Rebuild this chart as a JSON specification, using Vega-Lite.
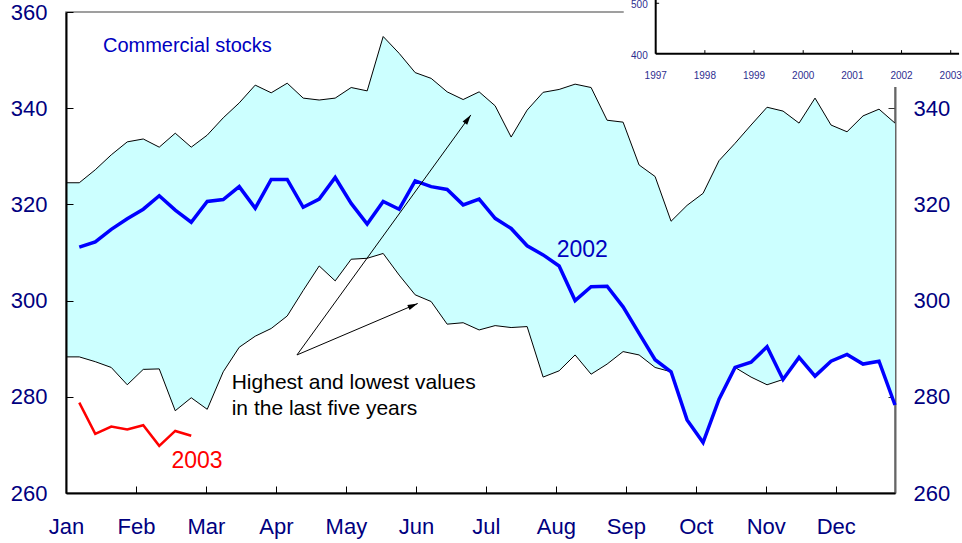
{
  "$schema": "https://vega.github.io/schema/vega-lite/v6.json",
  "width": 829,
  "height": 481,
  "autosize": {"type": "none"},
  "padding": {"left": 66, "top": 12, "right": 67, "bottom": 50},
  "background": "white",
  "config": {"view": {"stroke": "#808080", "strokeWidth": 1.5}, "font": "Liberation Sans"},
  "datasets": {
    "band": [
      {"week": 0, "high": 324.5, "low": 288.3},
      {"week": 1, "high": 324.5, "low": 288.3},
      {"week": 2, "high": 327.2, "low": 287.3},
      {"week": 3, "high": 330.3, "low": 286.1},
      {"week": 4, "high": 333.0, "low": 282.5},
      {"week": 5, "high": 333.6, "low": 285.7},
      {"week": 6, "high": 331.9, "low": 285.8},
      {"week": 7, "high": 334.8, "low": 277.1},
      {"week": 8, "high": 331.9, "low": 279.8},
      {"week": 9, "high": 334.4, "low": 277.4},
      {"week": 10, "high": 338.0, "low": 285.2},
      {"week": 11, "high": 341.1, "low": 290.3},
      {"week": 12, "high": 344.8, "low": 292.6},
      {"week": 13, "high": 343.2, "low": 294.2},
      {"week": 14, "high": 345.2, "low": 296.8},
      {"week": 15, "high": 342.1, "low": 302.1},
      {"week": 16, "high": 341.7, "low": 307.2},
      {"week": 17, "high": 342.1, "low": 304.1},
      {"week": 18, "high": 344.3, "low": 308.6},
      {"week": 19, "high": 343.6, "low": 308.8},
      {"week": 20, "high": 354.9, "low": 309.8},
      {"week": 21, "high": 351.4, "low": 305.3},
      {"week": 22, "high": 347.4, "low": 301.2},
      {"week": 23, "high": 346.2, "low": 299.8},
      {"week": 24, "high": 343.4, "low": 295.1},
      {"week": 25, "high": 341.8, "low": 295.4},
      {"week": 26, "high": 343.4, "low": 293.9},
      {"week": 27, "high": 340.5, "low": 294.8},
      {"week": 28, "high": 334.0, "low": 294.4},
      {"week": 29, "high": 339.6, "low": 294.6},
      {"week": 30, "high": 343.3, "low": 284.1},
      {"week": 31, "high": 343.9, "low": 285.4},
      {"week": 32, "high": 345.0, "low": 288.7},
      {"week": 33, "high": 344.3, "low": 284.7},
      {"week": 34, "high": 337.5, "low": 286.8},
      {"week": 35, "high": 337.1, "low": 289.4},
      {"week": 36, "high": 328.2, "low": 288.7},
      {"week": 37, "high": 325.8, "low": 286.1},
      {"week": 38, "high": 316.5, "low": 285.2},
      {"week": 39, "high": 319.8, "low": 275.2},
      {"week": 40, "high": 322.3, "low": 270.5},
      {"week": 41, "high": 329.1, "low": 279.5},
      {"week": 42, "high": 332.7, "low": 286.1},
      {"week": 43, "high": 336.5, "low": 284.1},
      {"week": 44, "high": 340.2, "low": 282.5},
      {"week": 45, "high": 339.4, "low": 283.6},
      {"week": 46, "high": 336.9, "low": 288.2},
      {"week": 47, "high": 342.1, "low": 284.3},
      {"week": 48, "high": 336.5, "low": 287.4},
      {"week": 49, "high": 335.1, "low": 288.8},
      {"week": 50, "high": 338.4, "low": 286.8},
      {"week": 51, "high": 339.8, "low": 287.4},
      {"week": 52, "high": 336.9, "low": 278.3}
    ],
    "y2002": [
      {"week": 1, "value": 311.1}, {"week": 2, "value": 312.2}, {"week": 3, "value": 314.8}, {"week": 4, "value": 317.0},
      {"week": 5, "value": 319.0}, {"week": 6, "value": 321.8}, {"week": 7, "value": 318.8}, {"week": 8, "value": 316.3},
      {"week": 9, "value": 320.6}, {"week": 10, "value": 321.0}, {"week": 11, "value": 323.7}, {"week": 12, "value": 319.2},
      {"week": 13, "value": 325.2}, {"week": 14, "value": 325.2}, {"week": 15, "value": 319.4}, {"week": 16, "value": 321.1},
      {"week": 17, "value": 325.6}, {"week": 18, "value": 320.2}, {"week": 19, "value": 315.9}, {"week": 20, "value": 320.6},
      {"week": 21, "value": 319.0}, {"week": 22, "value": 324.9}, {"week": 23, "value": 323.7}, {"week": 24, "value": 323.1},
      {"week": 25, "value": 319.9}, {"week": 26, "value": 321.1}, {"week": 27, "value": 317.1}, {"week": 28, "value": 315.0},
      {"week": 29, "value": 311.4}, {"week": 30, "value": 309.5}, {"week": 31, "value": 307.2}, {"week": 32, "value": 300.0},
      {"week": 33, "value": 302.9}, {"week": 34, "value": 303.0}, {"week": 35, "value": 298.7}, {"week": 36, "value": 293.2},
      {"week": 37, "value": 287.7}, {"week": 38, "value": 285.2}, {"week": 39, "value": 275.2}, {"week": 40, "value": 270.5},
      {"week": 41, "value": 279.5}, {"week": 42, "value": 286.1}, {"week": 43, "value": 287.2}, {"week": 44, "value": 290.4},
      {"week": 45, "value": 283.6}, {"week": 46, "value": 288.2}, {"week": 47, "value": 284.3}, {"week": 48, "value": 287.4},
      {"week": 49, "value": 288.8}, {"week": 50, "value": 286.8}, {"week": 51, "value": 287.4}, {"week": 52, "value": 278.3}
    ],
    "y2003": [
      {"week": 1, "value": 278.8}, {"week": 2, "value": 272.3}, {"week": 3, "value": 273.8}, {"week": 4, "value": 273.2},
      {"week": 5, "value": 274.1}, {"week": 6, "value": 269.8}, {"week": 7, "value": 272.9}, {"week": 8, "value": 271.9}
    ],
    "arrows": [
      {"week": 14.61, "value": 288.7, "week2": 25.48, "value2": 338.6},
      {"week": 14.61, "value": 288.7, "week2": 22.16, "value2": 299.4}
    ],
    "insetYears": [
      {"year": 1997}, {"year": 1998}, {"year": 1999}, {"year": 2000}, {"year": 2001}, {"year": 2002}, {"year": 2003}
    ],
    "insetValues": [{"v": 400}, {"v": 500}]
  },
  "layer": [
    {
      "layer": [
        {
          "data": {"name": "band"},
          "mark": {"type": "area", "fill": "#CCFFFF", "clip": true},
          "encoding": {
            "x": {
              "field": "week", "type": "quantitative",
              "scale": {"domain": [0.17, 52], "nice": false, "zero": false},
              "axis": {
                "values": [0.17, 4.545, 8.92, 13.295, 17.67, 22.045, 26.42, 30.795, 35.17, 39.545, 43.92, 48.295],
                "labelExpr": "['Jan','Feb','Mar','Apr','May','Jun','Jul','Aug','Sep','Oct','Nov','Dec'][round((datum.value-0.17)/4.375)]",
                "labelFontSize": 22, "labelColor": "#000080", "labelFont": "Liberation Sans",
                "labelFlush": false, "labelOverlap": false, "labelBound": false,
                "tickSize": -7, "tickColor": "#000000", "tickWidth": 1,
                "domainColor": "#000000", "domainWidth": 2,
                "grid": false, "title": null, "labelPadding": 30, "zindex": 1
              }
            },
            "y": {
              "field": "high", "type": "quantitative",
              "scale": {"domain": [260, 360], "nice": false, "zero": false},
              "axis": {
                "values": [260, 280, 300, 320, 340, 360],
                "labelFontSize": 22, "labelColor": "#000080", "labelFont": "Liberation Sans",
                "labelOverlap": false, "labelBound": false, "labelFlush": false,
                "tickSize": -7, "tickColor": "#000000", "tickWidth": 1,
                "domainColor": "#000000", "domainWidth": 2,
                "grid": false, "title": null, "labelPadding": 26, "zindex": 1
              }
            },
            "y2": {"field": "low"}
          }
        },
        {
          "data": {"name": "band"},
          "mark": {"type": "line", "color": "#000000", "strokeWidth": 1, "clip": true},
          "encoding": {
            "x": {"field": "week", "type": "quantitative"},
            "y": {"field": "high", "type": "quantitative"}
          }
        },
        {
          "data": {"name": "band"},
          "mark": {"type": "line", "color": "#000000", "strokeWidth": 1, "clip": true},
          "encoding": {
            "x": {"field": "week", "type": "quantitative"},
            "y": {"field": "low", "type": "quantitative"}
          }
        },
        {
          "data": {"name": "y2002"},
          "mark": {"type": "line", "color": "#0000FF", "strokeWidth": 3.5, "strokeJoin": "miter"},
          "encoding": {
            "x": {"field": "week", "type": "quantitative"},
            "y": {"field": "value", "type": "quantitative"}
          }
        },
        {
          "data": {"name": "y2003"},
          "mark": {"type": "line", "color": "#FF0000", "strokeWidth": 2.5, "strokeJoin": "miter"},
          "encoding": {
            "x": {"field": "week", "type": "quantitative"},
            "y": {"field": "value", "type": "quantitative"}
          }
        },
        {
          "data": {"values": [{"week": 2.48, "value": 351.7, "label": "Commercial stocks"}]},
          "mark": {"type": "text", "align": "left", "baseline": "alphabetic", "fontSize": 20, "color": "#0000C0", "font": "Liberation Sans"},
          "encoding": {
            "x": {"field": "week", "type": "quantitative"},
            "y": {"field": "value", "type": "quantitative"},
            "text": {"field": "label"}
          }
        },
        {
          "data": {"values": [{"week": 32.45, "value": 309.1, "label": "2002"}]},
          "mark": {"type": "text", "align": "center", "baseline": "alphabetic", "fontSize": 23, "color": "#0000C0", "font": "Liberation Sans"},
          "encoding": {
            "x": {"field": "week", "type": "quantitative"},
            "y": {"field": "value", "type": "quantitative"},
            "text": {"field": "label"}
          }
        },
        {
          "data": {"values": [{"week": 8.36, "value": 265.3, "label": "2003"}]},
          "mark": {"type": "text", "align": "center", "baseline": "alphabetic", "fontSize": 23, "color": "#FF0000", "font": "Liberation Sans"},
          "encoding": {
            "x": {"field": "week", "type": "quantitative"},
            "y": {"field": "value", "type": "quantitative"},
            "text": {"field": "label"}
          }
        },
        {
          "data": {"values": [
            {"week": 10.53, "value": 281.6, "label": "Highest and lowest values"},
            {"week": 10.53, "value": 276.2, "label": "in the last five years"}
          ]},
          "mark": {"type": "text", "align": "left", "baseline": "alphabetic", "fontSize": 21, "color": "#000000", "font": "Liberation Sans"},
          "encoding": {
            "x": {"field": "week", "type": "quantitative"},
            "y": {"field": "value", "type": "quantitative"},
            "text": {"field": "label"}
          }
        },
        {
          "data": {"name": "arrows"},
          "mark": {"type": "rule", "color": "#000000", "strokeWidth": 1},
          "encoding": {
            "x": {"field": "week", "type": "quantitative"},
            "y": {"field": "value", "type": "quantitative"},
            "x2": {"field": "week2"},
            "y2": {"field": "value2"}
          }
        },
        {
          "data": {"values": [{"week": 25.48, "value": 338.6}]},
          "mark": {"type": "point", "shape": "M0,0L-0.45,1.6L0.45,1.6Z", "filled": true, "color": "#000000", "opacity": 1, "size": 160, "angle": 35.8},
          "encoding": {
            "x": {"field": "week", "type": "quantitative"},
            "y": {"field": "value", "type": "quantitative"}
          }
        },
        {
          "data": {"values": [{"week": 22.16, "value": 299.4}]},
          "mark": {"type": "point", "shape": "M0,0L-0.45,1.6L0.45,1.6Z", "filled": true, "color": "#000000", "opacity": 1, "size": 160, "angle": 66.6},
          "encoding": {
            "x": {"field": "week", "type": "quantitative"},
            "y": {"field": "value", "type": "quantitative"}
          }
        }
      ]
    },
    {
      "data": {"name": "y2002"},
      "mark": {"type": "rule", "opacity": 0},
      "encoding": {
        "y": {
          "field": "value", "type": "quantitative",
          "scale": {"domain": [260, 360], "nice": false, "zero": false},
          "axis": {
            "orient": "right",
            "values": [260, 280, 300, 320, 340, 360],
            "labelFontSize": 22, "labelColor": "#000080", "labelFont": "Liberation Sans",
            "labelOverlap": false, "labelBound": false, "labelFlush": false,
            "tickSize": -7, "tickColor": "#333333", "tickWidth": 1,
            "domainColor": "#666666", "domainWidth": 2,
            "grid": false, "title": null, "labelPadding": 25, "zindex": 0
          }
        }
      }
    },
    {
      "layer": [
        {
          "data": {"values": [{}]},
          "mark": {"type": "rect", "fill": "#FFFFFF"},
          "encoding": {
            "x": {"datum": 1996.35, "type": "quantitative", "scale": {"domain": [1985.007, 2001.867], "nice": false, "zero": false}, "axis": null},
            "x2": {"datum": 2003.6},
            "y": {"datum": 333.9, "type": "quantitative", "scale": {"domain": [-471.7, 482.7], "nice": false, "zero": false}, "axis": null},
            "y2": {"datum": 540}
          }
        },
        {
          "data": {"values": [{}]},
          "mark": {"type": "rule", "color": "#000000", "strokeWidth": 2},
          "encoding": {
            "x": {"datum": 1997, "type": "quantitative"},
            "y": {"datum": 400, "type": "quantitative"},
            "y2": {"datum": 540}
          }
        },
        {
          "data": {"values": [{}]},
          "mark": {"type": "rule", "color": "#000000", "strokeWidth": 2},
          "encoding": {
            "x": {"datum": 1997, "type": "quantitative"},
            "x2": {"datum": 2003.17},
            "y": {"datum": 400, "type": "quantitative"}
          }
        },
        {
          "data": {"name": "insetYears"},
          "mark": {"type": "rule", "color": "#000000", "strokeWidth": 1},
          "encoding": {
            "x": {"field": "year", "type": "quantitative"},
            "y": {"datum": 400, "type": "quantitative"},
            "y2": {"datum": 407}
          }
        },
        {
          "data": {"values": [{}]},
          "mark": {"type": "rule", "color": "#000000", "strokeWidth": 1},
          "encoding": {
            "x": {"datum": 1997, "type": "quantitative"},
            "x2": {"datum": 1997.07},
            "y": {"datum": 500, "type": "quantitative"}
          }
        },
        {
          "data": {"name": "insetYears"},
          "mark": {"type": "text", "align": "center", "baseline": "middle", "dy": 22, "fontSize": 10, "color": "#2E2E8F", "font": "Liberation Sans"},
          "encoding": {
            "x": {"field": "year", "type": "quantitative"},
            "y": {"datum": 400, "type": "quantitative"},
            "text": {"field": "year", "type": "nominal"}
          }
        },
        {
          "data": {"name": "insetValues"},
          "mark": {"type": "text", "align": "right", "baseline": "middle", "dx": -8, "dy": 2, "fontSize": 10, "color": "#2E2E8F", "font": "Liberation Sans"},
          "encoding": {
            "x": {"datum": 1997, "type": "quantitative"},
            "y": {"field": "v", "type": "quantitative"},
            "text": {"field": "v", "type": "nominal"}
          }
        }
      ]
    }
  ],
  "resolve": {"scale": {"x": "independent", "y": "independent"}}
}
